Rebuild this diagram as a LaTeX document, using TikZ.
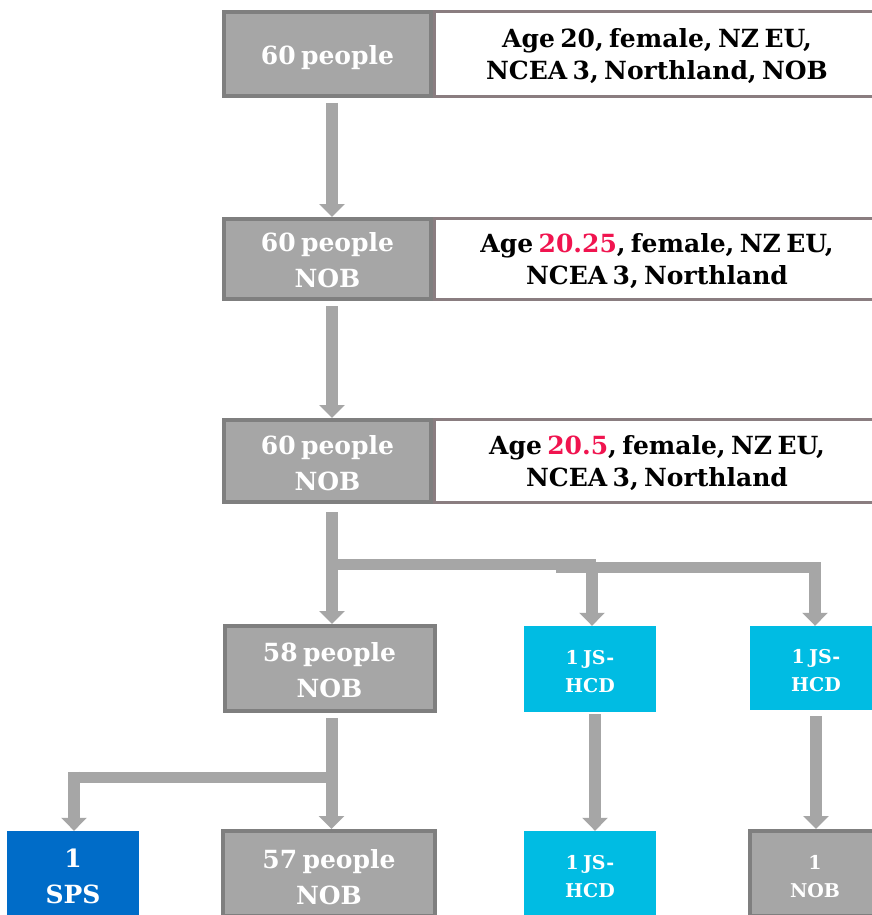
\documentclass[tikz,border=0pt]{standalone}
\usepackage{fontspec}
\setmainfont{DejaVu Serif}[WordSpace=0.62]
\usetikzlibrary{arrows.meta}
\definecolor{boxgrey}{HTML}{A6A6A6}
\definecolor{edgegrey}{HTML}{7F7F7F}
\definecolor{edgemauve}{HTML}{8A7D80}
\definecolor{agered}{HTML}{F0144F}
\definecolor{jscyan}{HTML}{00BCE3}
\definecolor{spsblue}{HTML}{006CC8}
\tikzset{
  infotext/.style={font=\bfseries\fontsize{25}{32}\selectfont, text=black, align=center, yshift=-2.5pt},
  bigtext/.style={font=\bfseries\fontsize{25}{36}\selectfont, text=white, align=center, yshift=-2pt},
  smalltext/.style={font=\bfseries\fontsize{19}{28}\selectfont, text=white, align=center, yshift=-3pt},
  greybox/.style={draw=edgegrey, line width=4pt, fill=boxgrey, inner sep=0pt},
  infobox/.style={draw=edgemauve, line width=3pt, fill=white, inner sep=0pt},
  cyanbox/.style={fill=jscyan, inner sep=0pt},
  bluebox/.style={fill=spsblue, inner sep=0pt},
  conn/.style={draw=boxgrey, line width=12pt, -{Triangle[width=25pt,length=13pt]}},
  bar/.style={draw=boxgrey, line width=11pt}
}
\begin{document}
\begin{tikzpicture}[x=1pt,y=-1pt]
\useasboundingbox (0,0) rectangle (872,915);
\clip (0,0) rectangle (872,915);
\fill[white] (0,0) rectangle (872,915);

% row 1
\node[greybox, minimum width=207, minimum height=84,
  label={[bigtext, yshift=-2pt]center:{60 people}}] (r1g) at (327.5,54) {};
\node[infobox, minimum width=446, minimum height=85,
  label={[infotext]center:{Age 20, female, NZ EU,\\NCEA 3, Northland, NOB}}] (r1w) at (657,54) {};

% row 2
\node[greybox, minimum width=207, minimum height=80,
  label={[bigtext, yshift=1pt]center:{60 people\\NOB}}] (r2g) at (327.5,259) {};
\node[infobox, minimum width=446, minimum height=81,
  label={[infotext]center:{Age \textcolor{agered}{20.25}, female, NZ EU,\\NCEA 3, Northland}}] (r2w) at (657,259) {};

% row 3
\node[greybox, minimum width=207, minimum height=82,
  label={[bigtext]center:{60 people\\NOB}}] (r3g) at (327.5,461) {};
\node[infobox, minimum width=446, minimum height=83,
  label={[infotext]center:{Age \textcolor{agered}{20.5}, female, NZ EU,\\NCEA 3, Northland}}] (r3w) at (657,461) {};

% row 4
\node[greybox, minimum width=210, minimum height=85,
  label={[bigtext]center:{58 people\\NOB}}] (n58) at (329.5,668.5) {};
\node[cyanbox, minimum width=132, minimum height=86,
  label={[smalltext]center:{1 JS-\\HCD}}] (jsa) at (590,669) {};
\node[cyanbox, minimum width=132, minimum height=84,
  label={[smalltext]center:{1 JS-\\HCD}}] (jsb) at (816,668) {};

% row 5
\node[bluebox, minimum width=132, minimum height=86,
  label={[bigtext]center:{1\\SPS}}] (sps) at (73,874) {};
\node[greybox, minimum width=212, minimum height=85,
  label={[bigtext, yshift=-2pt]center:{57 people\\NOB}}] (n57) at (329,873.5) {};
\node[cyanbox, minimum width=132, minimum height=86,
  label={[smalltext]center:{1 JS-\\HCD}}] (jsc) at (590,874) {};
\node[greybox, minimum width=130, minimum height=85,
  label={[smalltext]center:{1\\NOB}}] (nob1) at (815,873.5) {};

% junction points of the branching connectors
\coordinate (j3) at (332,564);
\coordinate (ja) at (592,567);
\coordinate (jb) at (815,567);
\coordinate (j4) at (331.5,777);
\coordinate (js) at (74,777);

% straight connectors
\draw[conn] ([xshift=4.5pt,yshift=-5pt]r1g.south) -- ([xshift=4.5pt]r2g.north);
\draw[conn] ([xshift=4.5pt,yshift=-5pt]r2g.south) -- ([xshift=4.5pt]r3g.north);
\draw[conn] ([xshift=4.5pt,yshift=-8pt]r3g.south) -- ([xshift=4.5pt]r3g.south |- n58.north);

% branch below row 3
\draw[bar] ([xshift=-6pt]j3) -- ([xshift=4pt]ja |- j3);
\draw[bar] ([xshift=-36pt]ja) -- ([xshift=5pt]jb);
\draw[conn] ([yshift=5pt]ja) -- (ja |- jsa.north);
\draw[conn] ([yshift=5pt]jb) -- (jb |- jsb.north);

% branch below row 4
\draw[conn] ([xshift=2pt,yshift=-5pt]n58.south) -- ([xshift=2pt]n58.south |- n57.north);
\draw[bar] ([xshift=6pt]j4) -- ([xshift=-6pt]js);
\draw[conn] ([yshift=5.5pt]js) -- (js |- sps.north);
\draw[conn] ([xshift=5pt,yshift=-2pt]jsa.south) -- ([xshift=5pt]jsa.south |- jsc.north);
\draw[conn] ([yshift=-6pt]jsb.south) -- (jsb.south |- nob1.north);
\end{tikzpicture}
\end{document}
